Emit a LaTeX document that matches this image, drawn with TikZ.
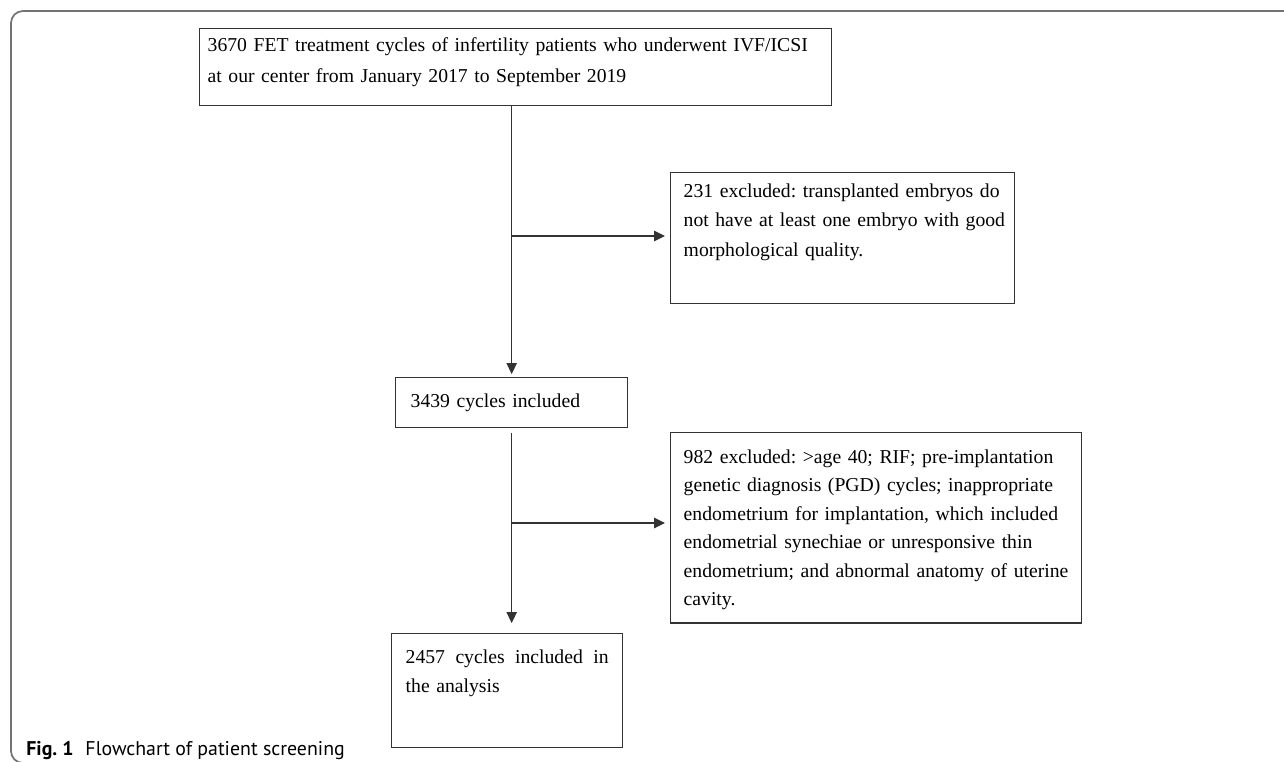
\documentclass[tikz,border=0pt]{standalone}
\usepackage{fontspec}
\setmainfont{Liberation Serif}
\newfontfamily\capfont{PT Sans}
\usetikzlibrary{arrows.meta}
\frenchspacing

\begin{document}
\begin{tikzpicture}[x=0.02cm,y=-0.02cm,
	box/.style={draw=black!80,line width=0.8pt,anchor=north west,align=left,
		inner xsep=0.3cm,inner ysep=4.5pt,
		font=\fontsize{11.2}{17}\selectfont},
	link/.style={draw=black!80,line width=0.6pt},
	arr/.style={link,-{Triangle[length=0.22cm,width=0.21cm]}},
	frame/.style={draw=black!55,line width=1pt,rounded corners=0.24cm}]
	\useasboundingbox (0,0) rectangle (1284,761);
	\clip (0,0) rectangle (1284,761);
	\draw[frame] (11,11) rectangle (1320,763);
	% boxes
	\node[box,inner xsep=0.16cm,text width=12.32cm,text height=8.3pt,text depth=26.5pt,
		font=\fontsize{11.2}{18}\selectfont] (src) at (199,28)
		{3670 FET treatment cycles of infertility patients who underwent IVF/ICSI\\at our center from January 2017 to September 2019};
	\node[box,inner xsep=0.26cm,text width=6.36cm,text height=9.4pt,text depth=56.1pt] (exa) at (670,172)
		{231 excluded: transplanted embryos do\\\mbox{not have at least one embryo with good}\\morphological quality.};
	\node[box,text width=4.04cm,text height=12.3pt,text depth=7.2pt] (inc) at (395,377)
		{3439 cycles included};
	\node[box,inner xsep=0.26cm,text width=7.7cm,text height=12.9pt,text depth=86.3pt,
		font=\fontsize{11.2}{16.2}\selectfont] (exb) at (670,432)
		{982 excluded: >age 40; RIF; pre-implantation\\genetic diagnosis (PGD) cycles; inappropriate\\endometrium for implantation, which included\\endometrial synechiae or unresponsive thin\\endometrium; and abnormal anatomy of uterine\\cavity.};
	\node[box,inner xsep=0.28cm,text width=4.06cm,text height=12.3pt,text depth=43.6pt,
		font=\fontsize{11.2}{16.5}\selectfont] (fin) at (391,633)
		{\makebox[4.06cm][s]{2457\hfill cycles\hfill included\hfill in}\\the analysis};
	% connectors
	\coordinate (ja) at (inc.north |- 0,236);
	\coordinate (jb) at (inc.south |- 0,523);
	\draw[arr,shorten >=0.06cm] (src.south -| inc.north) -- (inc.north);
	\draw[arr,shorten >=0.1cm] (ja) -- (ja -| exa.west);
	\draw[arr,shorten <=0.1cm,shorten >=0.2cm] (inc.south) -- (inc.south |- fin.north);
	\draw[arr,shorten >=0.1cm] (jb) -- (jb -| exb.west);
	% caption
	\node[anchor=base west,inner sep=0pt,font=\capfont\fontsize{11.3}{13}\selectfont] (cap) at (26,755)
		{\textbf{Fig. 1}\hspace{0.6em}Flowchart of patient screening};
\end{tikzpicture}
\end{document}
